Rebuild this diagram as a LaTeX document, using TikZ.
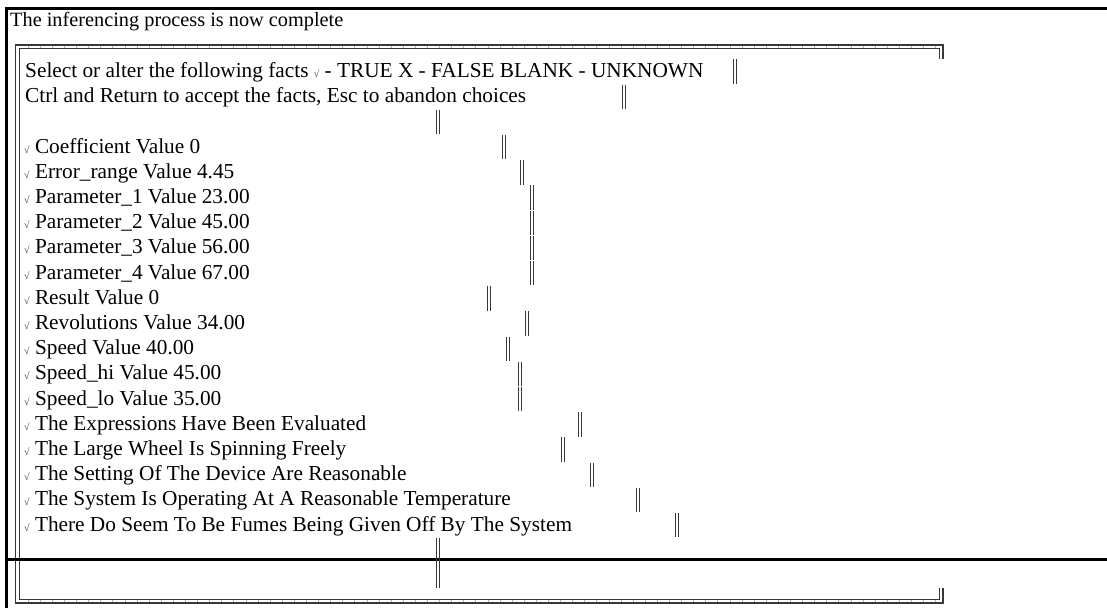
\documentclass[tikz,border=0pt]{standalone}
\usepackage{fontspec}
\setmainfont{Liberation Serif}
% small check mark placed in front of each fact
\newcommand\factmark{{\fontsize{10}{10}\selectfont\color{black!75}√}}
\begin{document}
\begin{tikzpicture}[x=1pt,y=-1pt,
  txt/.style={anchor=base west, inner sep=0pt, font=\fontsize{21.3}{25}\selectfont},
  headline/.style={anchor=base west, inner sep=0pt, font=\fontsize{20.3}{24}\selectfont},
  frame/.style={line width=3pt, black},
  dbl/.style={line width=1.1pt, black!78},
  joint/.style={line width=0.7pt, black!30},
]
\useasboundingbox (0,0) rectangle (1107,608);

% heavy outer frame
\draw[frame] (1107,8) -- (6.5,8) -- (6.5,608);

% title line
\node[headline] (title) at (10,26) {The inferencing process is now complete};

% double-line dialog box
\draw[dbl] (943,58.9) -- (943,45) -- (15.8,45) -- (15.8,603) -- (943,603) -- (943,588.1);
\draw[dbl] (939.3,58.9) -- (939.3,48.8) -- (19.4,48.8) -- (19.4,599.2) -- (939.3,599.2) -- (939.3,588.1);
% joints between the box characters
\foreach \k in {1,...,76} {
  \draw[joint] (16+12.1*\k,45.6) -- (16+12.1*\k,48.2);
  \draw[joint] (16+12.1*\k,599.8) -- (16+12.1*\k,602.4);
}

% header rows
\node[txt] (hdr1) at (25,77.4) {Select or alter the following facts \factmark{} - TRUE X - FALSE BLANK - UNKNOWN};
\node[txt] (hdr2) at (25,102.6) {Ctrl and Return to accept the facts, Esc to abandon choices};

% fact rows
\foreach \r/\t in {4/Coefficient Value 0,
                   5/Error\_range Value 4.45,
                   6/Parameter\_1 Value 23.00,
                   7/Parameter\_2 Value 45.00,
                   8/Parameter\_3 Value 56.00,
                   9/Parameter\_4 Value 67.00,
                   10/Result Value 0,
                   11/Revolutions Value 34.00,
                   12/Speed Value 40.00,
                   13/Speed\_hi Value 45.00,
                   14/Speed\_lo Value 35.00,
                   15/The Expressions Have Been Evaluated,
                   16/The Large Wheel Is Spinning Freely,
                   17/The Setting Of The Device Are Reasonable,
                   18/The System Is Operating At A Reasonable Temperature,
                   19/There Do Seem To Be Fumes Being Given Off By The System} {
  \node[txt] (fact\r) at (24,33.7+25.2*\r+18.5) {\factmark{} \t};
}

% heavy rule near the bottom
\draw[frame] (6.5,559.5) -- (1107,559.5);

% right-hand border characters, one per row
\foreach \r/\x in {1/735, 2/624, 3/438, 4/504, 5/522, 6/532, 7/532, 8/532, 9/532,
                   10/489, 11/527, 12/508, 13/520, 14/520, 15/580, 16/563, 17/592,
                   18/638, 19/677, 20/438, 21/438} {
  \draw[dbl] (\x-1.9,33.7+25.2*\r+0.4) -- (\x-1.9,33.7+25.2*\r+24.8);
  \draw[dbl] (\x+1.9,33.7+25.2*\r+0.4) -- (\x+1.9,33.7+25.2*\r+24.8);
}
\end{tikzpicture}
\end{document}
